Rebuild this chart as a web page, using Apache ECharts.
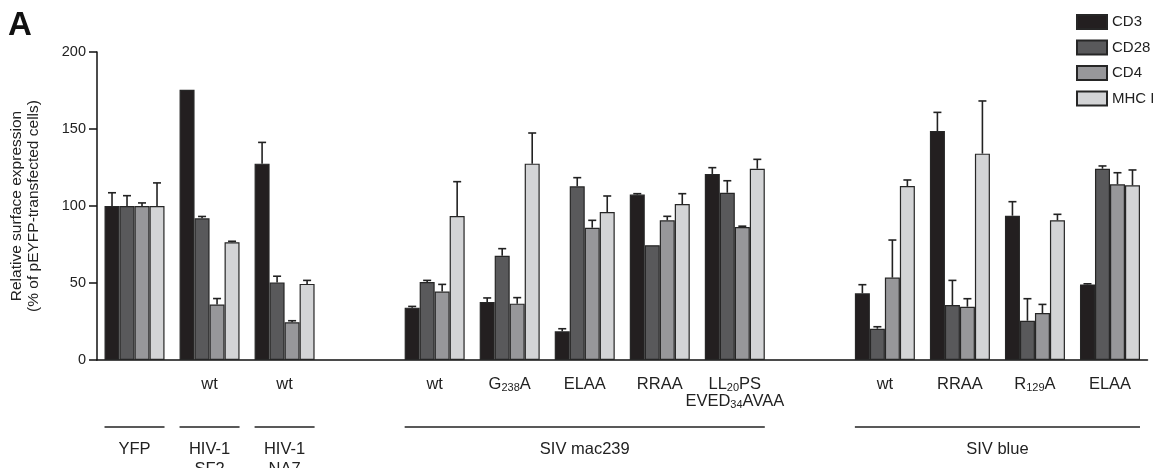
<!DOCTYPE html>
<html>
<head>
<meta charset="utf-8">
<script src="https://cdn.jsdelivr.net/npm/echarts@6/dist/echarts.min.js"></script>
<style>
  html, body { margin: 0; padding: 0; background: #fff; }
  #chart { width: 1163px; height: 468px; }
</style>
</head>
<body>
<div id="chart"></div>
<script>
// --- data ---
const categories = ['YFP', 'HIV-1 SF2 wt', 'HIV-1 NA7 wt', '', 'mac wt', 'mac G238A', 'mac ELAA', 'mac RRAA',
  'mac LL20PS', ' ', 'blue wt', 'blue RRAA', 'blue R129A', 'blue ELAA'];
const tickLabels = ['', '{t|wt}', '{t|wt}', '', '{t|wt}', '{t|G}{s|238}{t|A}', '{t|ELAA}', '{t|RRAA}',
  '{t|LL}{s|20}{t|PS}\n{t|EVED}{s|34}{t|AVAA}', '', '{t|wt}', '{t|RRAA}', '{t|R}{s|129}{t|A}', '{t|ELAA}'];
const seriesNames = ['CD3', 'CD28', 'CD4', 'MHC I'];
const cd3 = [100, 175.5, 127.5, null, 34, 37.7, 18.6, 107.4, 120.8, null, 43.3, 148.7, 93.7, 49.1];
const cd3Err = [8.6, null, 13.8, null, 0.8, 2.6, 1.7, 0.6, 4.1, null, 5.6, 12.1, 9.1, 0.4];
const cd28 = [100, 92, 50.4, null, 50.6, 67.7, 112.8, 74.5, 108.6, null, 20.3, 35.7, 25.5, 124.2];
const cd28Err = [6.7, 1.2, 4, null, 1.1, 4.6, 5.6, null, 7.8, null, 1.3, 16, 14.3, 1.8];
const cd4 = [100, 36, 24.5, null, 44.4, 36.6, 85.9, 90.7, 86.4, null, 53.5, 34.6, 30.5, 114.1];
const cd4Err = [2, 3.9, 1, null, 4.7, 3.9, 4.8, 2.6, 0.5, null, 24.4, 5.2, 5.6, 7.5];
const mhc = [100, 76.5, 49.4, null, 93.5, 127.5, 96.1, 101.3, 124.2, null, 113, 134, 90.7, 113.4];
const mhcErr = [15, 0.6, 2.3, null, 22.3, 19.9, 10.4, 6.7, 6.1, null, 3.9, 34.2, 3.9, 10];
const groupNames = ['YFP', 'HIV-1\nSF2', 'HIV-1\nNA7', 'SIV mac239', 'SIV blue'];
const groupFrom = [0, 1, 2, 4, 10];
const groupTo = [0, 1, 2, 8, 13];

const values = [cd3, cd28, cd4, mhc];
const errors = [cd3Err, cd28Err, cd4Err, mhcErr];
const colors = ['#231f20', '#59595b', '#97979a', '#d3d4d6'];
const BAR_W = 15;
const FONT = 'Liberation Sans, Arial, sans-serif';

const chart = echarts.init(document.getElementById('chart'));

function errorSeries(si) {
  const data = [];
  values[si].forEach((v, i) => {
    if (v != null && errors[si][i] != null) data.push([i, v, errors[si][i]]);
  });
  return {
    type: 'custom',
    name: seriesNames[si] + ' err',
    z: 5,
    encode: { x: 0, y: 1 },
    data: data,
    renderItem: function (params, api) {
      const base = api.coord([api.value(0), api.value(1)]);
      const top = api.coord([api.value(0), api.value(1) + api.value(2)]);
      const cx = base[0] + (si - 1.5) * BAR_W;
      const st = { stroke: '#222', lineWidth: 1.6 };
      return {
        type: 'group',
        children: [
          { type: 'line', shape: { x1: cx, y1: base[1], x2: cx, y2: top[1] }, style: st },
          { type: 'line', shape: { x1: cx - 4, y1: top[1], x2: cx + 4, y2: top[1] }, style: st }
        ]
      };
    }
  };
}

const barSeries = seriesNames.map((name, si) => ({
  type: 'bar',
  name: name,
  data: values[si],
  barWidth: BAR_W,
  barGap: '0%',
  itemStyle: { color: colors[si], borderColor: '#262626', borderWidth: 1.2 }
}));

const option = {
  animation: false,
  textStyle: { fontFamily: FONT },
  grid: { left: 97, right: 15.5, top: 52, bottom: 108, containLabel: false, outerBoundsMode: 'none' },
  legend: {
    data: seriesNames,
    icon: 'rect',
    orient: 'vertical',
    left: 1071,
    top: 9,
    itemWidth: 30,
    itemHeight: 14,
    itemGap: 9.5,
    textStyle: { fontSize: 15, color: '#222', fontFamily: FONT }
  },
  xAxis: {
    type: 'category',
    data: categories,
    axisLine: { lineStyle: { color: '#111', width: 1.5 } },
    axisTick: { show: false },
    axisLabel: {
      interval: 0,
      margin: 16,
      formatter: (v, i) => tickLabels[i],
      rich: {
        t: { fontSize: 16.5, color: '#222', fontFamily: FONT, lineHeight: 17 },
        s: { fontSize: 11, color: '#222', fontFamily: FONT, lineHeight: 17, verticalAlign: 'bottom', padding: [6, 0, 0, 0] }
      }
    }
  },
  yAxis: {
    type: 'value',
    min: 0,
    max: 200,
    interval: 50,
    name: 'Relative surface expression\n(% of pEYFP-transfected cells)',
    nameLocation: 'middle',
    nameRotate: 90,
    nameGap: 55,
    nameMoveOverlap: false,
    nameTextStyle: { fontSize: 15.5, color: '#222', lineHeight: 17, fontFamily: FONT },
    axisLine: { show: true, lineStyle: { color: '#111', width: 1.5 } },
    axisTick: { show: true, length: 8, lineStyle: { color: '#111', width: 1.5 } },
    axisLabel: { fontSize: 14.5, color: '#222', margin: 11, fontFamily: FONT },
    splitLine: { show: false }
  },
  series: barSeries.concat([0, 1, 2, 3].map(errorSeries))
};

chart.setOption(option);

// --- annotations under the axis, placed from the axis scale ---
const graphics = [{
  type: 'text', left: 8, top: 9,
  style: { text: 'A', fontSize: 33, fontWeight: 'bold', fill: '#111', fontFamily: FONT }
}];
groupNames.forEach((g, k) => {
  const x1 = chart.convertToPixel({ xAxisIndex: 0 }, groupFrom[k]) - 2 * BAR_W;
  const x2 = chart.convertToPixel({ xAxisIndex: 0 }, groupTo[k]) + 2 * BAR_W;
  graphics.push({
    type: 'line', shape: { x1: x1, y1: 427, x2: x2, y2: 427 },
    style: { stroke: '#222', lineWidth: 1.3 }
  });
  graphics.push({
    type: 'text', x: (x1 + x2) / 2, y: 439,
    style: { text: g, fontSize: 16.5, fill: '#222', align: 'center', verticalAlign: 'top', lineHeight: 20, fontFamily: FONT }
  });
});
chart.setOption({ graphic: graphics });
</script>
</body>
</html>
